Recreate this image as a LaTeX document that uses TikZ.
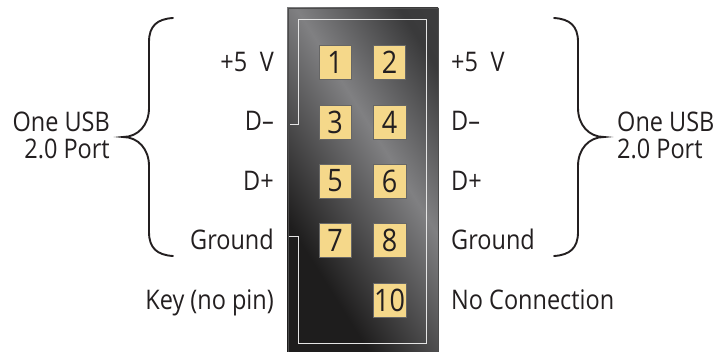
\documentclass[tikz,border=0pt]{standalone}
\usepackage{fontspec}
\setmainfont[FakeStretch=0.87]{Open Sans}
\definecolor{shA}{HTML}{1E1D1D}
\definecolor{shB}{HTML}{808082}
\definecolor{shC}{HTML}{3A3A3B}
\definecolor{shD}{HTML}{454546}
\definecolor{pinfill}{HTML}{F5D88A}
\definecolor{ink}{HTML}{231F20}
\pgfdeclarehorizontalshading{blockshade}{500bp}{
  color(0bp)=(shA); color(165bp)=(shA); color(285bp)=(shB); color(372bp)=(shC); color(500bp)=(shD)}
\tikzset{
  pinbox/.style={draw=black!60,line width=0.6pt,fill=pinfill,minimum width=#1,minimum height=34pt,inner sep=0pt,font=\fontsize{31}{31}\selectfont,text=ink},
  pinbox/.default=32pt,
  lab/.style={font=\fontsize{27}{27}\selectfont,text=ink,inner sep=0pt},
  leftlab/.style={lab,anchor=base east},
  rightlab/.style={lab,anchor=base west},
  bracepath/.style={draw=ink,line width=1.9pt,line cap=round},
  wire/.style={draw=white!90!black,line width=1pt}
}
\begin{document}
\begin{tikzpicture}[x=1pt,y=-1pt]
\useasboundingbox (0,0) rectangle (717,352);
\begin{scope}
  \clip (287,8) rectangle (438,352);
  \node[inner sep=0pt,rotate=32] (sheen) at (362,180) {\pgfuseshading{blockshade}};
\end{scope}
\node[draw=black!70,line width=1pt,minimum width=150pt,minimum height=350pt,inner sep=0pt,anchor=north west] (block) at (287.5,8.5) {};
\node[pinbox] (p1) at (335,62) {1};
\node[pinbox] (p2) at (389.5,62) {2};
\node[pinbox] (p3) at (335,122) {3};
\node[pinbox=33pt] (p4) at (389.5,122) {4};
\node[pinbox] (p5) at (335,181) {5};
\node[pinbox=33pt] (p6) at (389.5,181) {6};
\node[pinbox] (p7) at (335,240.5) {7};
\node[pinbox=33pt] (p8) at (389.5,240.5) {8};
\node[pinbox=33pt] (p10) at (389.5,300) {10};
\coordinate (wa) at (290,125);
\coordinate (wb) at (289,237);
\draw[wire] (wa) -| (298,20) -| (426,343) -| (298,237) -- (wb);
\draw[bracepath] (173,18) .. controls (157,19) and (149,26) .. (149,42) -- (149,108) .. controls (149,125) and (138,137) .. (123,137) .. controls (138,137) and (149,149) .. (149,166) -- (149,232) .. controls (149,248) and (157,255) .. (173,256);
\draw[bracepath] (554,18) .. controls (570,19) and (578,26) .. (578,42) -- (578,108) .. controls (578,125) and (589,137) .. (604,137) .. controls (589,137) and (578,149) .. (578,166) -- (578,232) .. controls (578,248) and (570,255) .. (554,256);
\node[leftlab] (l1) at (274,72) {+5\hspace{0.24em} V};
\node[leftlab] (l2) at (274,131) {D–};
\node[leftlab] (l3) at (274,191) {D+};
\node[leftlab] (l4) at (274,250) {Ground};
\node[leftlab] (l5) at (274,310) {Key (no pin)};
\node[rightlab] (r1) at (451,72) {+5\hspace{0.24em} V};
\node[rightlab] (r2) at (451,131) {D–};
\node[rightlab] (r3) at (451,191) {D+};
\node[rightlab] (r4) at (451,250) {Ground};
\node[rightlab] (r5) at (451,310) {No Connection};
\node[leftlab] (pa) at (110,132) {One USB};
\node[leftlab] (pb) at (110,159) {2.0 Port};
\node[rightlab] (qa) at (617,132) {One USB};
\node[rightlab] (qb) at (617,159) {2.0 Port};
\end{tikzpicture}
\end{document}
